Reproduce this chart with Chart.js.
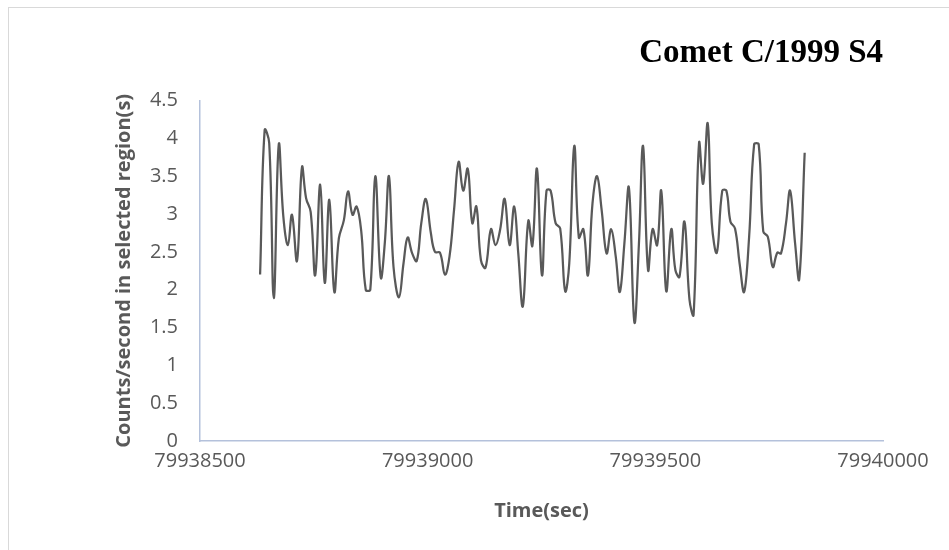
<!DOCTYPE html>
<html>
<head>
<meta charset="utf-8">
<title>Comet C/1999 S4</title>
<script src="https://cdn.jsdelivr.net/npm/chart.js@4.4.1/dist/chart.umd.min.js"></script>
<style>
  html, body { margin: 0; padding: 0; background: #ffffff; overflow: hidden; }
  #wrap { position: relative; width: 949px; height: 550px; }
  #frame { position: absolute; left: 8px; top: 7px; width: 980px; height: 580px;
           border: 1px solid #d9d9d9; box-sizing: border-box; }
  #chart { position: absolute; left: 0; top: 0; }
</style>
</head>
<body>
<div id="wrap">
  <div id="frame"></div>
  <canvas id="chart" width="949" height="550"></canvas>
</div>
<script>
// Light curve: arrival time (s) and count rate in the selected region
const times = [
  79938632, 79938642, 79938652, 79938662, 79938673, 79938683, 79938693, 79938702,
  79938713, 79938724, 79938733, 79938743, 79938753, 79938764, 79938774, 79938784,
  79938795, 79938805, 79938816, 79938825, 79938835, 79938844, 79938854, 79938864,
  79938874, 79938885, 79938897, 79938906, 79938915, 79938925, 79938937, 79938947,
  79938956, 79938966, 79938976, 79938986, 79938996, 79939007, 79939016, 79939027,
  79939038, 79939048, 79939058, 79939068, 79939078, 79939088, 79939098, 79939107,
  79939117, 79939127, 79939139, 79939149, 79939159, 79939169, 79939180, 79939190,
  79939199, 79939209, 79939221, 79939230, 79939240, 79939251, 79939261, 79939270,
  79939281, 79939291, 79939302, 79939311, 79939322, 79939332, 79939342, 79939352,
  79939362, 79939372, 79939382, 79939393, 79939403, 79939413, 79939422, 79939432,
  79939442, 79939454, 79939464, 79939473, 79939484, 79939494, 79939504, 79939513,
  79939524, 79939535, 79939544, 79939553, 79939564, 79939575, 79939584, 79939596,
  79939605, 79939615, 79939624, 79939635, 79939647, 79939656, 79939665, 79939675,
  79939685, 79939695, 79939706, 79939717, 79939727, 79939737, 79939747, 79939758,
  79939768, 79939776, 79939787, 79939796, 79939807, 79939816, 79939828
];

const countsPerSecond = [
  2.20, 4.11, 3.94, 1.89, 3.92, 2.97, 2.59, 2.99,
  2.38, 3.62, 3.21, 3.03, 2.19, 3.39, 2.09, 3.19,
  1.97, 2.68, 2.92, 3.30, 2.99, 3.10, 2.78, 2.00,
  2.00, 3.50, 2.16, 2.63, 3.50, 2.30, 1.90, 2.35,
  2.69, 2.48, 2.38, 2.88, 3.20, 2.75, 2.50, 2.49,
  2.20, 2.44, 3.06, 3.69, 3.31, 3.60, 2.88, 3.10,
  2.39, 2.29, 2.80, 2.59, 2.79, 3.20, 2.59, 3.10,
  2.48, 1.78, 2.91, 2.58, 3.60, 2.19, 3.31, 3.31,
  2.88, 2.81, 1.98, 2.35, 3.90, 2.69, 2.80, 2.19,
  3.14, 3.50, 3.06, 2.48, 2.80, 2.44, 1.97, 2.61,
  3.35, 1.57, 2.61, 3.90, 2.26, 2.80, 2.59, 3.31,
  1.98, 2.80, 2.26, 2.17, 2.90, 1.87, 1.67, 3.94,
  3.40, 4.20, 2.88, 2.49, 3.31, 3.31, 2.90, 2.81,
  2.35, 1.97, 2.70, 3.92, 3.92, 2.77, 2.70, 2.30,
  2.49, 2.48, 2.88, 3.31, 2.61, 2.14, 3.81
];

// Axis ranges and tick spacing
const xTicks = { min: 79938500, max: 79940000, step: 500 };
const yTicks = { min: 0, max: 4.5, step: 0.5 };

const titleText = 'Comet C/1999 S4';
const xTitle = 'Time(sec)';
const yTitle = 'Counts/second in selected region(s)';

const points = times.map((t, i) => ({ x: t, y: countsPerSecond[i] }));

const textGrey = '#595959';
const axisColor = '#b4c1db';
const tickFont = { family: "'Open Sans', sans-serif", size: 20 };
const titleFont = { family: "'Open Sans', sans-serif", size: 20, weight: 'bold' };

new Chart(document.getElementById('chart'), {
  type: 'line',
  data: {
    datasets: [{
      data: points,
      borderColor: '#595959',
      borderWidth: 2.25,
      pointRadius: 0,
      pointHoverRadius: 0,
      tension: 0.4,
      fill: false
    }]
  },
  options: {
    responsive: false,
    animation: false,
    layout: { padding: { left: 0, right: 66, top: 0, bottom: 0 } },
    plugins: {
      legend: { display: false },
      tooltip: { enabled: false },
      title: {
        display: true,
        text: titleText,
        align: 'end',
        color: '#000000',
        font: { family: "'Liberation Serif', 'Times New Roman', serif", size: 33, weight: 'bold' },
        padding: { top: 34, bottom: 27 }
      }
    },
    scales: {
      x: {
        type: 'linear',
        min: xTicks.min,
        max: xTicks.max,
        grid: { display: false, drawTicks: false },
        border: { display: true, color: axisColor, width: 1.5 },
        ticks: {
          stepSize: xTicks.step,
          color: textGrey,
          font: tickFont,
          padding: 8,
          maxRotation: 0,
          callback: (v) => String(v)
        },
        title: {
          display: true,
          text: xTitle,
          color: textGrey,
          font: titleFont,
          padding: { top: 0, bottom: 27 }
        },
        afterFit: (scale) => { scale.height = 109; }
      },
      y: {
        type: 'linear',
        min: yTicks.min,
        max: yTicks.max,
        grid: { display: false, drawTicks: false },
        border: { display: true, color: axisColor, width: 1.5 },
        ticks: {
          stepSize: yTicks.step,
          color: textGrey,
          font: tickFont,
          padding: 22,
          callback: (v) => String(v)
        },
        title: {
          display: true,
          text: yTitle,
          color: textGrey,
          font: titleFont,
          padding: { top: 112, bottom: 0 }
        },
        afterFit: (scale) => { scale.width = 200; }
      }
    }
  }
});
</script>
</body>
</html>
